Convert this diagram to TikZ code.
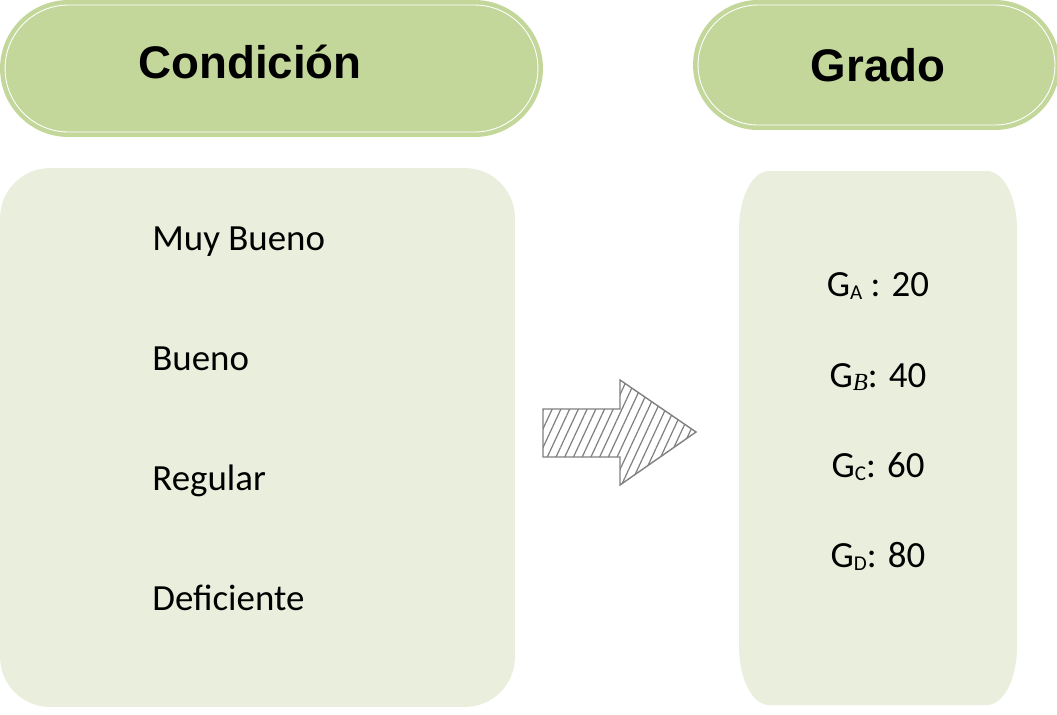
\documentclass[tikz,border=0pt]{standalone}
\usepackage{fontspec}
\setmainfont{Carlito}
\newfontfamily\headfont{Liberation Sans}
\newfontfamily\subitfont{Liberation Serif}
\usetikzlibrary{shapes.misc,patterns.meta}
\definecolor{headgreen}{RGB}{196,215,155}
\definecolor{bodygreen}{RGB}{234,239,221}
\definecolor{arrowgray}{RGB}{128,128,128}
\newcommand{\gsub}[1]{\raisebox{-2pt}{\fontsize{12}{12}\selectfont #1}}

\begin{document}
\begin{tikzpicture}[x=0.02cm, y=-0.02cm,
    head/.style={rounded rectangle, fill=headgreen, inner sep=0pt},
    headline/.style={rounded rectangle, draw=white, line width=0.5pt, inner sep=0pt},
    headtext/.style={font=\headfont\bfseries\fontsize{26}{26}\selectfont, anchor=base, inner sep=0pt},
    item/.style={font=\fontsize{21}{21}\selectfont, anchor=base west, inner sep=0pt},
    grade/.style={font=\fontsize{21}{21}\selectfont, anchor=base, inner sep=0pt}]
  \useasboundingbox (0,0) rectangle (1057,714);
  % encabezados
  \node [head, minimum width=10.86cm, minimum height=2.74cm] (condbox) at (271.5,68.5) {};
  \node [headline, minimum width=10.66cm, minimum height=2.54cm] (condline) at (271.5,68.5) {};
  \node [headtext] (cond) at (250,78) {Condición};
  \node [head, minimum width=7.34cm, minimum height=2.6cm] (gradbox) at (876.5,65) {};
  \node [headline, minimum width=7.14cm, minimum height=2.4cm] (gradline) at (876.5,65) {};
  \node [headtext] (grad) at (878,81) {Grado};
  % cajas
  \node [fill=bodygreen, rounded corners=1cm, minimum width=10.3cm, minimum height=10.78cm] (condlist) at (257.5,437.5) {};
  \fill [bodygreen] (769,171) -- (987,171) arc[start angle=90, end angle=0, x radius=0.6cm, y radius=1.16cm]
    -- (1017,647) arc[start angle=0, end angle=-90, x radius=0.6cm, y radius=1.16cm]
    -- (769,705) arc[start angle=270, end angle=180, x radius=0.6cm, y radius=1.16cm]
    -- (739,229) arc[start angle=180, end angle=90, x radius=0.6cm, y radius=1.16cm] -- cycle;
  % condiciones
  \node [item] (mb) at (152,250) {Muy Bueno};
  \node [item] (b) at (152,370) {Bueno};
  \node [item] (r) at (152,490) {Regular};
  \node [item] (d) at (152,610) {Deficiente};
  % grados
  \node [grade] (ga) at (878,296) {G\gsub{A} : 20};
  \node [grade] (gb) at (878,387) {G\raisebox{-2pt}{\fontsize{14}{14}\selectfont\subitfont\itshape B}: 40};
  \node [grade] (gc) at (878,477) {G\gsub{C}: 60};
  \node [grade] (gd) at (878,567) {G\gsub{D}: 80};
  % flecha
  \draw [arrowgray, line width=0.8pt, pattern={Lines[angle=65,distance=4.5pt,line width=0.7pt]}, pattern color=arrowgray]
    (543,409) -- (620,409) -- (620,380) -- (696,432) -- (620,485) -- (620,457) -- (543,457) -- cycle;
\end{tikzpicture}
\end{document}
